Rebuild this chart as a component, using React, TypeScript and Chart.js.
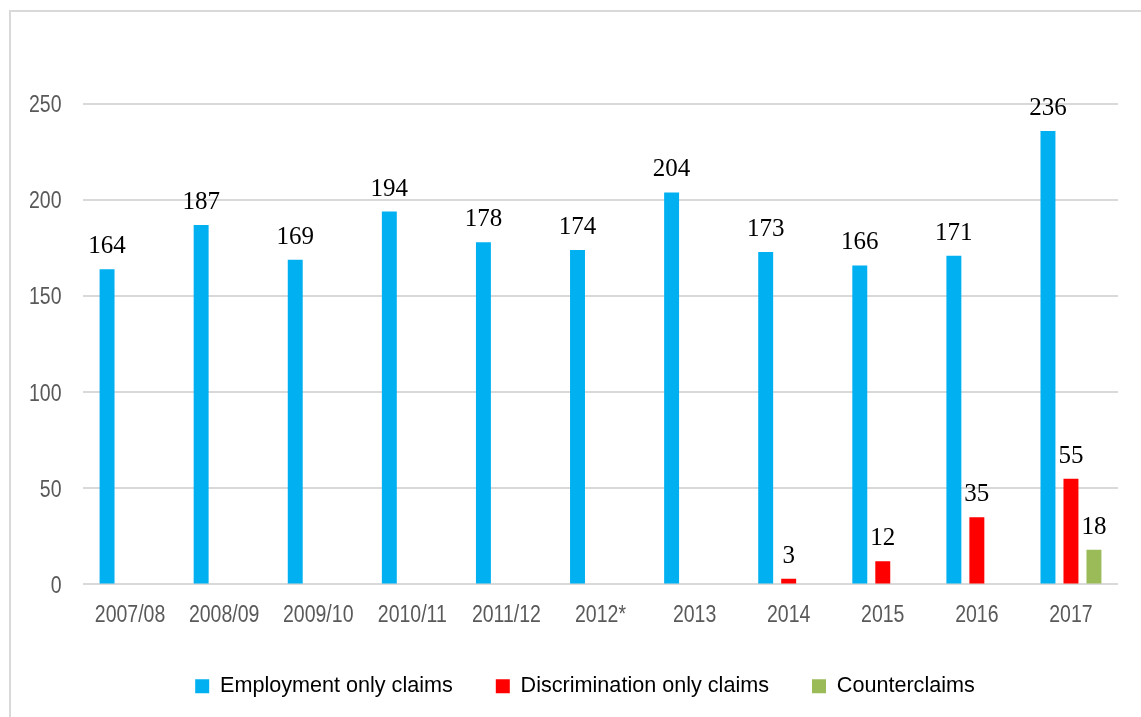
import React, { useEffect, useRef } from "react";
import { Chart, registerables } from "chart.js";

Chart.register(...registerables);

const categories = ["2007/08", "2008/09", "2009/10", "2010/11", "2011/12", "2012*", "2013", "2014", "2015", "2016", "2017"];
const employmentOnly = [164, 187, 169, 194, 178, 174, 204, 173, 166, 171, 236];
const discriminationOnly = [null, null, null, null, null, null, null, 3, 12, 35, 55];
const counterclaims = [null, null, null, null, null, null, null, null, null, null, 18];
const yTickValues = [0, 50, 100, 150, 200, 250];

const seriesNames = ["Employment only claims", "Discrimination only claims", "Counterclaims"];
const seriesColors = ["#00b0f0", "#ff0000", "#9bbb59"];

const SANS = "'Liberation Sans', Arial, sans-serif";

// value labels above each bar, positioned from the bar elements
const barLabels = {
  id: "barLabels",
  afterDatasetsDraw(chart: any) {
    const ctx = chart.ctx;
    ctx.save();
    ctx.font = "25px 'Liberation Serif', 'Times New Roman', serif";
    ctx.fillStyle = "#000000";
    ctx.textAlign = "center";
    ctx.textBaseline = "alphabetic";
    chart.data.datasets.forEach((ds: any, i: number) => {
      const meta = chart.getDatasetMeta(i);
      meta.data.forEach((el: any, j: number) => {
        const v = ds.data[j];
        if (v == null) return;
        ctx.fillText(String(v), el.x, el.y - 16);
      });
    });
    ctx.restore();
  },
};

// tick labels drawn from the scales' own ticks, slightly tall (condensed look)
const tickLabels = {
  id: "tickLabels",
  afterDraw(chart: any) {
    const { ctx, chartArea } = chart;
    const xs = chart.scales.x;
    const ys = chart.scales.y;
    ctx.save();
    ctx.fillStyle = "#595959";
    ctx.font = "19.5px " + SANS;
    ctx.textBaseline = "alphabetic";
    ctx.textAlign = "center";
    xs.ticks.forEach((t: any, i: number) => {
      const x = xs.getPixelForTick(i);
      ctx.save();
      ctx.translate(x, chartArea.bottom + 37.5);
      ctx.scale(1, 1.19);
      ctx.fillText(String(xs.getLabelForValue(t.value)), 0, 0);
      ctx.restore();
    });
    ctx.textAlign = "right";
    ys.ticks.forEach((t: any, i: number) => {
      const y = ys.getPixelForTick(i);
      ctx.save();
      ctx.translate(chartArea.left - 21.5, y + 8.3);
      ctx.scale(1, 1.19);
      ctx.fillText(String(t.value), 0, 0);
      ctx.restore();
    });
    ctx.restore();
  },
};

export default function App() {
  const canvasRef = useRef<HTMLCanvasElement | null>(null);

  useEffect(() => {
    if (!canvasRef.current) return;
    const chart = new Chart(canvasRef.current, {
      type: "bar",
      data: {
        labels: categories,
        datasets: [
          { label: seriesNames[0], data: employmentOnly, backgroundColor: seriesColors[0] },
          { label: seriesNames[1], data: discriminationOnly, backgroundColor: seriesColors[1] },
          { label: seriesNames[2], data: counterclaims, backgroundColor: seriesColors[2] },
        ],
      },
      options: {
        responsive: false,
        animation: false,
        devicePixelRatio: 1,
        layout: { padding: { left: 52, right: 23, top: 104, bottom: 10 } },
        datasets: {
          bar: { categoryPercentage: 0.733, barPercentage: 0.65 },
        },
        plugins: {
          legend: {
            position: "bottom",
            labels: {
              boxWidth: 14,
              boxHeight: 14,
              padding: 43,
              color: "#000000",
              font: { family: SANS, size: 21.6 },
            },
          },
          tooltip: { enabled: false },
        },
        scales: {
          x: {
            grid: { display: false, drawTicks: false },
            border: { display: false },
            ticks: { display: false, autoSkip: false, maxRotation: 0 },
            afterFit: (scale: any) => {
              scale.height = 48;
            },
          },
          y: {
            min: 0,
            max: 250,
            grid: { color: "#d9d9d9", lineWidth: 2, drawTicks: false },
            border: { display: false },
            afterBuildTicks: (scale: any) => {
              scale.ticks = yTickValues.map((v) => ({ value: v }));
            },
            ticks: { display: false },
            afterFit: (scale: any) => {
              scale.width = 31;
            },
          },
        },
      },
      plugins: [barLabels, tickLabels],
    });
    return () => chart.destroy();
  }, []);

  return (
    <div style={{ position: "fixed", left: 0, top: 0, width: 1141, height: 717, overflow: "hidden", background: "#ffffff" }}>
      <div
        style={{
          position: "absolute",
          left: 9,
          top: 10,
          width: 1200,
          height: 800,
          borderLeft: "2px solid #d9d9d9",
          borderTop: "2px solid #d9d9d9",
        }}
      />
      <canvas ref={canvasRef} width={1141} height={717} style={{ position: "absolute", left: 0, top: 0 }} />
    </div>
  );
}
